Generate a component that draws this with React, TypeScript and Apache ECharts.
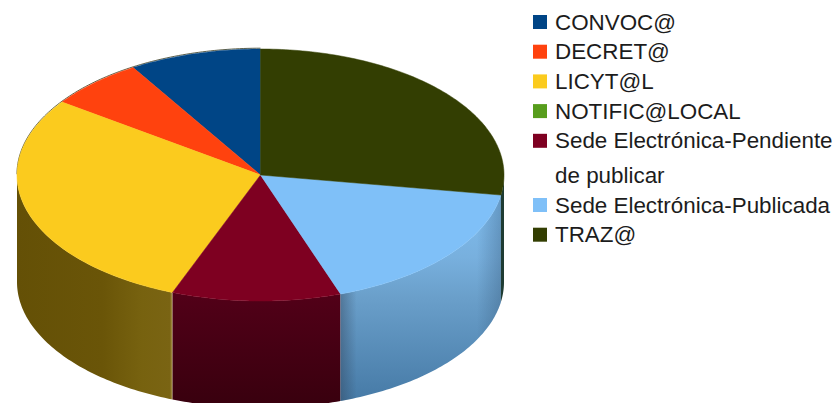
import React, { useEffect, useRef } from "react";
import * as echarts from "echarts";

// Legend order is also the drawing order, counter-clockwise from twelve o'clock.
const categories = [
  "CONVOC@",
  "DECRET@",
  "LICYT@L",
  "NOTIFIC@LOCAL",
  "Sede Electrónica-Pendiente de publicar",
  "Sede Electrónica-Publicada",
  "TRAZ@",
];
const shares = [8.75, 6.4, 28.9, 0, 11.2, 17.1, 27.5];

const topColors = ["#004586", "#ff420e", "#fbcb1e", "#579d1c", "#7e0021", "#7fc0f8", "#333e02"];

type Stop = [number, string];
type Wall = { dir: "h" | "v"; stops: Stop[]; shade?: Stop[] };
const wallFills: Wall[] = [
  { dir: "v", stops: [[0, "#0a2a4a"], [1, "#0a2a4a"]] },
  { dir: "v", stops: [[0, "#5a2a10"], [1, "#5a2a10"]] },
  { dir: "h", stops: [[0, "#645006"], [0.55, "#6a5508"], [0.8, "#77620f"], [0.985, "#7a6413"], [1, "#b5a05a"]] },
  { dir: "v", stops: [[0, "#33600f"], [1, "#33600f"]] },
  { dir: "v", stops: [[0, "#520018"], [1, "#38000e"]] },
  {
    dir: "v",
    stops: [[0, "#80bef0"], [0.3, "#78b0de"], [0.5, "#6a9fca"], [1, "#467aa6"]],
    // Darker along both vertical ends of the curved wall.
    shade: [[0, "rgba(45,60,80,0.4)"], [0.1, "rgba(45,60,80,0)"], [0.85, "rgba(40,70,100,0)"], [1, "rgba(40,70,100,0.3)"]],
  },
  { dir: "v", stops: [[0, "#1f3c33"], [1, "#1f3c33"]] },
];

// Ellipse of the top face and the height of the drum, in pixels.
const CX = 260.5;
const CY = 175;
const RX = 243.5;
const RY = 126;
const DEPTH = 107;
const ARC_STEP = 1;

const total = shares.reduce((a, b) => a + b, 0);

const rimPoint = (deg: number, dy = 0): number[] => {
  const t = (deg * Math.PI) / 180;
  return [CX + RX * Math.sin(t), CY + dy - RY * Math.cos(t)];
};

const arcPoints = (from: number, to: number, dy = 0): number[][] => {
  const pts: number[][] = [];
  const n = Math.max(1, Math.ceil(Math.abs(to - from) / ARC_STEP));
  for (let i = 0; i <= n; i++) pts.push(rimPoint(from + ((to - from) * i) / n, dy));
  return pts;
};

const makeFill = (dir: "h" | "v", stops: Stop[]) =>
  new echarts.graphic.LinearGradient(
    0,
    0,
    dir === "h" ? 1 : 0,
    dir === "v" ? 1 : 0,
    stops.map(([offset, color]) => ({ offset, color })),
  );

// One drum slice: outer wall where it faces the viewer, thin back rim, then the top face.
const renderSlice = (index: number) => () => {
  const before = shares.slice(0, index).reduce((a, b) => a + b, 0);
  const end = 360 - (before / total) * 360;
  const start = end - (shares[index] / total) * 360;
  const children: any[] = [];
  if (shares[index] <= 0) return { type: "group", children };

  const wallFrom = Math.max(start, 90);
  const wallTo = Math.min(end, 270);
  if (wallTo > wallFrom) {
    const points = [...arcPoints(wallFrom, wallTo), ...arcPoints(wallTo, wallFrom, DEPTH)];
    const wall = wallFills[index];
    children.push({ type: "polygon", shape: { points }, style: { fill: makeFill(wall.dir, wall.stops) } });
    if (wall.shade) {
      children.push({ type: "polygon", shape: { points }, style: { fill: makeFill("h", wall.shade) } });
    }
  }
  const backFrom = Math.max(start, 270);
  if (end > backFrom) {
    children.push({
      type: "polyline",
      shape: { points: arcPoints(backFrom, end, -0.8) },
      style: { stroke: "#3a3a1a", lineWidth: 1, fill: "none", opacity: 0.8 },
    });
  }
  children.push({
    type: "polygon",
    shape: { points: [[CX, CY], ...arcPoints(start, end)] },
    style: { fill: topColors[index], stroke: topColors[index], lineWidth: 0.5 },
  });
  return { type: "group", children };
};

const legendText = {
  fontFamily: "Liberation Sans",
  fontSize: 22.4,
  color: "#1c1c1c",
  padding: [0, 0, 0, 3],
};
const firstLine = (name: string) => name.replace(" de publicar", "");

const legendBase = {
  orient: "vertical" as const,
  left: 533,
  padding: 0,
  icon: "rect",
  itemWidth: 14,
  itemHeight: 14,
  itemGap: 7.7,
  selectedMode: false,
  textStyle: legendText,
  formatter: firstLine,
};

export default function App() {
  const ref = useRef<HTMLDivElement>(null);
  useEffect(() => {
    const chart = echarts.init(ref.current!, undefined, { renderer: "svg" });
    chart.setOption({
      animation: false,
      backgroundColor: "#ffffff",
      legend: [
        { ...legendBase, top: 11, data: categories.slice(0, 5) },
        { ...legendBase, top: 194, data: categories.slice(5) },
      ],
      graphic: [
        {
          type: "text",
          left: 555,
          top: 164,
          style: { text: "de publicar", font: "22.4px 'Liberation Sans'", fill: "#1c1c1c" },
        },
      ],
      series: categories.map((name, i) => ({
        type: "custom",
        name,
        coordinateSystem: "none",
        itemStyle: { color: topColors[i] },
        data: [[shares[i]]],
        renderItem: renderSlice(i),
      })),
    });
    return () => chart.dispose();
  }, []);
  return <div ref={ref} style={{ position: "fixed", left: 0, top: 0, width: 835, height: 403 }} />;
}
